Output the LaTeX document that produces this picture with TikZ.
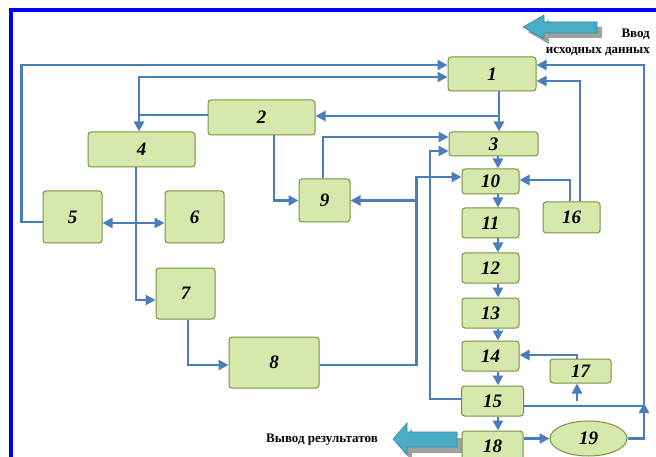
\documentclass[tikz,border=0pt]{standalone}
\usepackage{fontspec}
\setmainfont{Liberation Serif}
\usetikzlibrary{arrows.meta, positioning, shapes.geometric}

\definecolor{boxfill}{RGB}{215,232,172}
\definecolor{boxline}{RGB}{118,146,60}
\definecolor{linkblue}{RGB}{74,126,187}
\definecolor{arrowteal}{RGB}{75,172,198}
\definecolor{arrowedge}{RGB}{52,136,160}
\definecolor{shadegray}{RGB}{160,160,160}

\begin{document}
\begin{tikzpicture}[
    x=1pt, y=-1pt,
    >={Triangle[length=10pt,width=10pt]},
    block/.style={
        draw=boxline,
        fill=boxfill,
        line width=1pt,
        rounded corners=3pt,
        inner sep=1pt,
        font=\fontsize{19}{19}\selectfont\bfseries\itshape
    },
    link/.style={draw=linkblue, line width=2.5pt},
    bigarrow/.style={fill=arrowteal, draw=arrowedge, line width=0.6pt},
    arrowshade/.style={fill=shadegray},
    caption/.style={font=\fontsize{13}{14}\selectfont\bfseries, inner sep=0pt, anchor=base east}
]
\useasboundingbox (0,0) rectangle (656,457);

% frame
\draw[blue, line width=3.5pt] (11,457) -- (11,10) -- (656,10);

% input / output arrows
\fill[arrowshade, shift={(5,5)}] (523,27) -- (544,15) -- (544,22) -- (597,22)
    -- (597,33) -- (544,33) -- (544,39) -- cycle;
\draw[bigarrow] (523,27) -- (544,15) -- (544,22) -- (597,22)
    -- (597,33) -- (544,33) -- (544,39) -- cycle;
\fill[arrowshade, shift={(5,6)}] (393,439) -- (407,423) -- (407,432) -- (462,432)
    -- (462,447) -- (407,447) -- (407,455) -- cycle;
\draw[bigarrow] (393,439) -- (407,423) -- (407,432) -- (457,432)
    -- (457,447) -- (407,447) -- (407,455) -- cycle;

\node[caption] (in1) at (650,38) {Ввод};
\node[caption] (in2) at (650,54) {исходных данных};
\node[caption] (out) at (378,442) {Вывод результатов};

% blocks
\node[block, minimum width=88pt, minimum height=34pt] (n1) at (492,74) {1};
\node[block, minimum width=107pt, minimum height=35pt] (n2) at (261.5,117.5) {2};
\node[block, minimum width=89pt, minimum height=24pt] (n3) at (493.5,144) {3};
\node[block, minimum width=107pt, minimum height=35pt] (n4) at (141.5,149.5) {4};
\node[block, minimum width=59pt, minimum height=52pt] (n5) at (72.5,217) {5};
\node[block, minimum width=59pt, minimum height=52pt] (n6) at (194.5,217) {6};
\node[block, minimum width=59pt, minimum height=51pt] (n7) at (185.5,293.5) {7};
\node[block, minimum width=90pt, minimum height=51pt] (n8) at (274,362.5) {8};
\node[block, minimum width=51pt, minimum height=43pt] (n9) at (324.5,200.5) {9};

% main chain
\node[block, minimum width=57pt, minimum height=25pt] (n10) at (490.5,181.5) {10};
\node[block, minimum width=57pt, minimum height=30pt, below=13pt of n10] (n11) {11};
\node[block, minimum width=57pt, minimum height=30pt, below=14pt of n11] (n12) {12};
\node[block, minimum width=57pt, minimum height=30pt, below=14pt of n12] (n13) {13};
\node[block, minimum width=57pt, minimum height=30pt, below=12pt of n13] (n14) {14};
\node[block, minimum width=62pt, minimum height=30pt, below=14pt of n14, xshift=2pt] (n15) {15};
\node[block, minimum width=61pt, minimum height=31pt, below=14pt of n15] (n18) {18};

\node[block, minimum width=57pt, minimum height=31pt] (n16) at (571.5,217.5) {16};
\node[block, minimum width=61pt, minimum height=24pt] (n17) at (580.5,371) {17};
\node[block, ellipse, minimum width=77pt, minimum height=35pt] (n19) at (588.5,438.5) {19};

% junctions
\coordinate (cx) at (498,0);
\coordinate (j2) at (499,116);
\coordinate (j9) at (416,0);
\coordinate (j17) at (577,401);
\coordinate (jr) at (644,403);

% chain arrows
\foreach \a/\b in {3/10,10/11,11/12,12/13,13/14,14/15,15/18}
    \draw[link,->] (n\a.south -| cx) -- (n\b.north -| cx);

% left loops
\draw[link,->] ([yshift=-5pt]n5.west) -- ++(-21,0) |- ([yshift=9pt]n1.west);
\draw[link,<->] ([yshift=-3pt]n1.west) -| ([xshift=-2.5pt]n4.north);
\draw[link] ([yshift=2.5pt]n2.west) -- ++(-69,0);

% 1 -> 3, 2
\draw[link,->] ([xshift=7pt]n1.south) -- ([xshift=5.5pt]n3.north);
\draw[link,->] (j2) -- (j2 -| n2.east);

% 9 -> 3, 15 -> 3
\draw[link,->] ([xshift=-1.5pt]n9.north) |- ([yshift=7pt]n3.west);
\draw[link,->] ([yshift=2pt]n15.west) -- ++(-31,0) |- ([yshift=-7pt]n3.west);

% 8 -> 10, 9
\draw[link,->] ([yshift=-2.5pt]n8.east) -- ++(97,0) |- ([yshift=4.5pt]n10.west);
\draw[link,->] (n9.east -| j9) -- (n9.east);

% 16 -> 10, 1
\draw[link,->] ([xshift=-1.5pt]n16.north) |- ([yshift=1.5pt]n10.east);
\draw[link,->] ([xshift=8.5pt]n16.north) |- ([yshift=-7pt]n1.east);

% 15 -> 17, 1 and 17 -> 14
\draw[link,->] ([yshift=-5pt]n15.east) -- ++(120,0) |- ([yshift=9pt]n1.east);
\draw[link,->] (j17) -- (j17 |- n17.south);
\draw[link,->] ([xshift=-3.5pt]n17.north) |- ([yshift=1pt]n14.east);

% 18 -> 19 -> back
\draw[link,->] (n18.east |- n19.west) -- (n19.west);
\draw[link,->] (n19.east) -| (jr);

% left part
\draw[link,->] ([xshift=12.5pt]n2.south) |- (n9.west);
\draw[link,->] ([xshift=-5.5pt]n4.south) |- ([yshift=-6.5pt]n7.west);
\draw[link,<->] ([yshift=-6pt]n5.east) -- ([yshift=-6pt]n6.west);
\draw[link,->] ([xshift=2.5pt]n7.south) |- ([yshift=-2.5pt]n8.west);
\end{tikzpicture}
\end{document}
